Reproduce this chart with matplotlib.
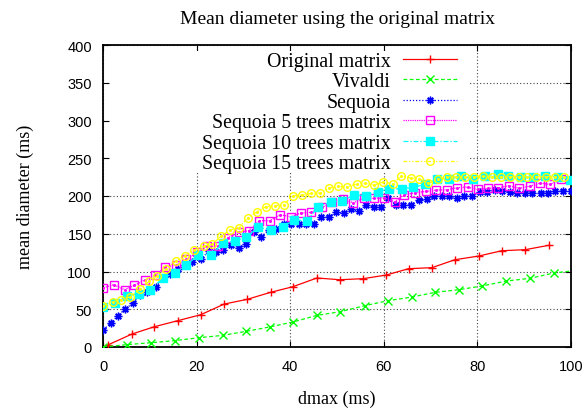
import matplotlib
matplotlib.use("Agg")
import matplotlib.pyplot as plt
from matplotlib.patches import Rectangle

# ---------------- data ----------------
orig_x = [1, 6.2, 11, 16, 20.9, 25.9, 30.8, 35.8, 40.6, 45.7, 50.6, 55.6, 60.5, 65.3, 70.3, 75.2, 80.3, 85.2, 90.2, 95.2]
orig_y = [2.6, 17.2, 26.9, 34.9, 42.8, 56.9, 63.1, 72.4, 79.9, 91.4, 89.1, 90.5, 95.3, 103.7, 105.1, 115.6, 120.5, 127.5, 128.9, 134.6]

viv_x = [0.1, 5.1, 10.3, 15.3, 20.6, 25.6, 30.5, 35.6, 40.6, 45.7, 50.7, 55.9, 60.9, 66, 71, 76, 81, 86.2, 91.2, 96.3, 101.3]
viv_y = [0, 3.1, 5.7, 8.4, 12.4, 15.4, 20.7, 26.5, 33.1, 41.9, 46.8, 54.7, 61.3, 66.2, 72.4, 75.9, 80.8, 87.4, 90.9, 98.0, 101.5]

seq_x = [0.1, 1.7, 3.2, 4.8, 6.4, 7.8, 9.5, 11.3, 12.8, 14.4, 16.0, 17.6, 19.1, 20.9, 22.6, 24.1,
         25.6, 27.3, 29, 30.5, 32.2, 33.7, 35.4, 36.9, 38.6, 40.2, 41.8, 43.3, 45, 46.5, 48.2, 49.8,
         51.4, 53, 54.6, 56.2, 57.8, 59.4, 61, 62.6, 64.2, 65.9, 67.5, 69.2, 70.7, 72.4, 73.9, 75.7,
         77.2, 78.9, 80.6, 82.1, 83.8, 85.3, 87, 88.5, 90.2, 91.7, 93.5, 95, 96.6, 98.3, 99.9]
seq_y = [22.9, 32.2, 41.5, 50.8, 57.8, 68.8, 73.3, 79.4, 90.9, 96.6, 103.3, 108.6, 113, 116.5, 127.1, 126.2,
         128.4, 135, 131.5, 135.9, 151.8, 145.6, 154.9, 155.8, 162.4, 163.3, 163.3, 163.3, 162.4, 172.1, 172.1, 178.3,
         177.4, 182.3, 180, 188.4, 184.9, 184.9, 196.8, 188, 188, 188.4, 194.6, 195.9, 199.9, 200.4, 199.9, 196.8,
         199.5, 200.4, 204.8, 204.8, 208.3, 207, 204.8, 203.4, 203.9, 203.9, 203.9, 203.9, 206.5, 206.5, 206.5]

s5_x = [0.1, 2.3, 4.6, 6.7, 8.9, 11.2, 13.3, 15.6, 17.8, 20.1, 22.2, 24.6, 26.7, 29, 31.1, 33.4,
        35.6, 37.9, 40.1, 42.3, 44.5, 46.8, 49, 51.2, 53.5, 55.7, 57.8, 60.1, 62.3, 64.4, 66.7, 69,
        71.2, 73.5, 75.7, 77.9, 80.1, 82.2, 84.5, 86.8, 88.9, 91.2, 93.4, 95.5, 97.9]
s5_y = [78.6, 82.5, 75.9, 81.6, 88.7, 94.9, 105.9, 108.6, 116.1, 125.3, 133.3, 133.7, 144.7, 151.8, 154, 167.3,
        167.3, 175.2, 172.5, 177.4, 178.3, 184.9, 191.5, 195.9, 191.1, 196.8, 196.8, 197.7, 192.4, 201.7, 204.3, 206.1,
        207.9, 208.3, 210.9, 211.8, 208.7, 210.1, 210.9, 213.6, 210.1, 213.1, 217.1, 215.4, 222]

s10_x = [0, 2.6, 5.1, 7.6, 10.1, 12.8, 15.3, 17.8, 20.4, 23.1, 25.6, 28.1, 30.6, 33.2, 35.9, 38.4,
         40.9, 43.5, 46, 48.7, 51, 53.7, 56.2, 58.7, 61.1, 63.8, 66.3, 68.8, 71.3, 73.9, 76.5, 79,
         81.6, 84.3, 86.6, 89.3, 91.9, 94.4, 97.2, 99.8]
s10_y = [53.4, 58.3, 67.1, 70.6, 75.9, 91.4, 98, 108.6, 121.8, 121.8, 137.2, 140.3, 145.6, 158.4, 155.3, 158.9,
         168.6, 166.8, 185.8, 192.4, 193.3, 201.7, 200.4, 205.6, 209.2, 209.6, 211.4, 215.4, 222.4, 222.4, 226, 222.9,
         226.8, 228.6, 226, 225.1, 225.5, 226.8, 225.5, 221.5]

s15_x = [0.1, 2.1, 3.8, 5.8, 7.8, 9.8, 11.6, 13.5, 15.6, 17.5, 19.4, 21.5, 23.3, 25.2, 27.2, 29,
         30.9, 32.9, 34.8, 36.8, 38.6, 40.6, 42.5, 44.5, 46.4, 48.3, 50.2, 52.2, 54.2, 56, 58, 59.9,
         61.9, 63.7, 65.8, 67.6, 69.5, 71.5, 73.5, 75.4, 77.4, 79.3, 81.1, 83.1, 85, 87, 88.8, 90.7,
         92.6, 94.7, 96.6, 98.6]
s15_y = [54.7, 60, 62.7, 66.6, 76.3, 86.9, 94.4, 103.3, 113.9, 120.9, 128.4, 133.7, 135.9, 146.5, 155.3, 158,
         170.8, 179.2, 185.8, 187.1, 188.4, 200.4, 201.2, 203.4, 203.9, 210.5, 212.7, 212.3, 215.8, 216.7, 214.5, 218.9,
         215.8, 226.4, 223.7, 222.4, 216.7, 222.4, 225.5, 225.1, 225.5, 225.5, 226, 225.1, 225.1, 225.5, 225.5, 225.1,
         225.5, 225.5, 225.5, 225.5]

labels = ["Original matrix", "Vivaldi", "Sequoia", "Sequoia 5 trees matrix",
          "Sequoia 10 trees matrix", "Sequoia 15 trees matrix"]
xticks = [0, 20, 40, 60, 80, 100]
yticks = [0, 50, 100, 150, 200, 250, 300, 350, 400]

# ---------------- styling ----------------
SERIF = "Liberation Serif"
SANS = "Liberation Sans"

fig = plt.figure(figsize=(5.87, 4.10), dpi=100)
ax = fig.add_axes([103 / 587, 1 - 348 / 410, (571 - 103) / 587, (348 - 46) / 410])

lw = 0.9
ms = 5.5
series = [
    (orig_x, orig_y, "#ff0000", "-", "+", "full"),
    (viv_x, viv_y, "#00ff00", (0, (3, 2)), "x", "full"),
    (seq_x, seq_y, "#0000ff", (0, (1, 1.5)), (8, 2, 0), "full"),
    (s5_x, s5_y, "#ff00ff", (0, (1, 0.8)), "s", "none"),
    (s10_x, s10_y, "#00ffff", (0, (4, 1.5, 1, 1.5)), "s", "full"),
    (s15_x, s15_y, "#ffff00", (0, (3, 1.5, 1, 1.5, 1, 1.5)), "o", "none"),
]

handles = []
for (x, y, c, ls, mk, fill), lab in zip(series, labels):
    kw = dict(color=c, linestyle=ls, linewidth=lw, marker=mk, markersize=ms,
              markeredgewidth=1.0, label=lab, zorder=3)
    if fill == "none":
        kw["markerfacecolor"] = "none"
        kw["markeredgecolor"] = c
    h, = ax.plot(x, y, **kw)
    if fill == "none":
        ax.plot(x, y, linestyle="none", marker="o", markersize=1.2, color=c, zorder=3)
    handles.append(h)

ax.set_xlim(0, 100)
ax.set_ylim(0, 400)
ax.set_xticks(xticks)
ax.set_yticks(yticks)
ax.set_xticklabels([str(t) for t in xticks], fontfamily=SANS, fontsize=10.5)
ax.set_yticklabels([str(t) for t in yticks], fontfamily=SANS, fontsize=10.5)
ax.tick_params(direction="in", length=4, width=0.8, top=True, right=True)
ax.tick_params(axis="x", pad=9)
ax.tick_params(axis="y", pad=8)
ax.set_axisbelow(True)
ax.grid(True, color="#444444", linestyle=(0, (1, 2)), linewidth=0.8)
for s in ax.spines.values():
    s.set_linewidth(1.3)

# blank area behind key (gnuplot key hides grid)
ax.add_patch(Rectangle(((110 - 103) / 468, (348 - 173) / 302),
                       (468 - 110) / 468, (173 - 52) / 302,
                       transform=ax.transAxes, facecolor="white",
                       edgecolor="none", zorder=1))

ax.set_title("Mean diameter using the original matrix", fontfamily=SERIF, fontsize=14, pad=16)
ax.set_xlabel("dmax (ms)", fontfamily=SERIF, fontsize=13, labelpad=12)
ax.set_ylabel("mean diameter (ms)", fontfamily=SERIF, fontsize=13, labelpad=24)

leg = ax.legend(handles=handles, loc="upper right",
                bbox_to_anchor=((457 - 103) / 468, (348 - 53) / 302),
                markerfirst=False, frameon=False, borderaxespad=0, borderpad=0,
                handlelength=2.7, handletextpad=0.62, labelspacing=0.07,
                prop={"family": SERIF, "size": 14.3})
leg.set_zorder(4)

fig.savefig("out.png", dpi=100)
